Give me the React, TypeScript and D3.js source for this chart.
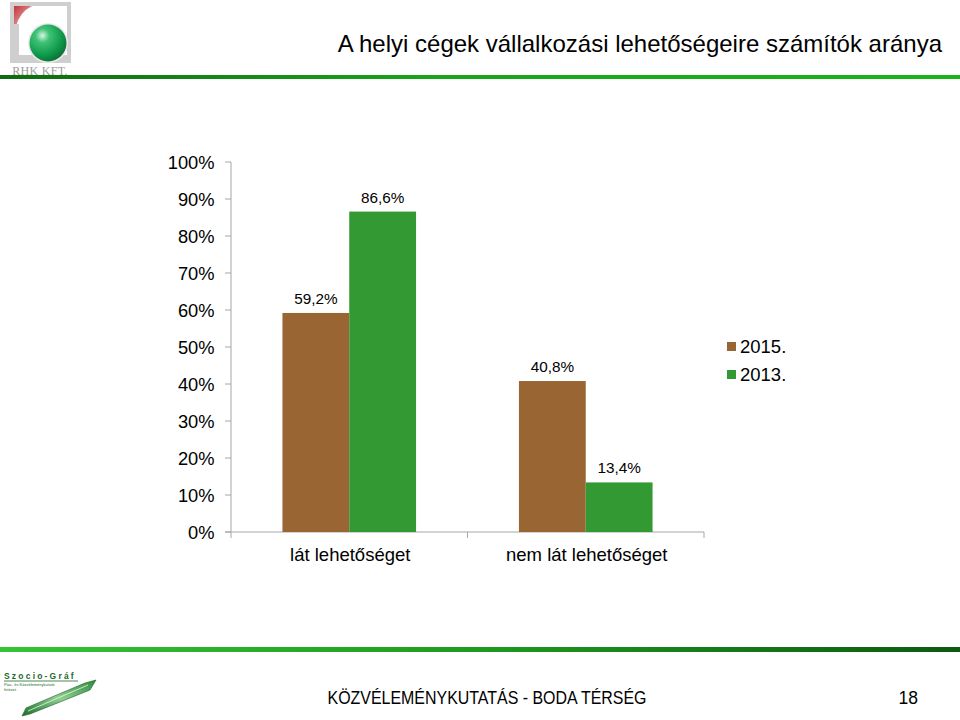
import React from "react";
import * as d3 from "d3";

const categories = ["lát lehetőséget", "nem lát lehetőséget"];
const years = ["2015.", "2013."];
const values2015 = [59.2, 40.8];
const values2013 = [86.6, 13.4];
const yTicks = [0, 10, 20, 30, 40, 50, 60, 70, 80, 90, 100];
const colors = ["#996633", "#339933"];
const title = "A helyi cégek vállalkozási lehetőségeire számítók aránya";
const footer = "KÖZVÉLEMÉNYKUTATÁS - BODA TÉRSÉG";
const pageNo = "18";

const fmt = (v: number) => v.toFixed(1).replace(".", ",") + "%";

export default function App() {
  const W = 960, H = 720;
  const x0 = 231, x1 = 704, yBottom = 532, yTop = 162;
  const y = d3.scaleLinear().domain([0, 100]).range([yBottom, yTop]);
  const xb = d3.scaleBand<string>().domain(categories).range([x0, x1]).padding(0);
  const xi = d3.scaleBand<string>().domain(years).range([0, xb.bandwidth()]).paddingInner(0).paddingOuter(0.77);
  const series = [values2015, values2013];
  const font = "Liberation Sans, Arial, sans-serif";

  return (
    <svg width={W} height={H} style={{ position: "absolute", left: 0, top: 0, background: "#fff" }} fontFamily={font}>
      <defs>
        <linearGradient id="topLine" x1="0" x2="1" y1="0" y2="0">
          <stop offset="0" stopColor="#0f6a12" />
          <stop offset="0.45" stopColor="#17a519" />
          <stop offset="1" stopColor="#19b41a" />
        </linearGradient>
        <linearGradient id="botLine" x1="0" x2="1" y1="0" y2="0">
          <stop offset="0" stopColor="#35c435" />
          <stop offset="0.5" stopColor="#1e9a1e" />
          <stop offset="1" stopColor="#0c5a10" />
        </linearGradient>
        <radialGradient id="sphere" cx="0.35" cy="0.3" r="0.75">
          <stop offset="0" stopColor="#d9f5e2" />
          <stop offset="0.25" stopColor="#3fc277" />
          <stop offset="0.7" stopColor="#0f9a4a" />
          <stop offset="1" stopColor="#0b6e35" />
        </radialGradient>
        <linearGradient id="redCorner" x1="0" y1="0" x2="1" y2="1">
          <stop offset="0" stopColor="#c0343a" />
          <stop offset="1" stopColor="#f3c9c9" />
        </linearGradient>
        <linearGradient id="pen" x1="0" y1="1" x2="1" y2="0">
          <stop offset="0" stopColor="#1c6e2a" />
          <stop offset="0.5" stopColor="#8ed08e" />
          <stop offset="1" stopColor="#2e8a3a" />
        </linearGradient>
      </defs>

      {/* top logo */}
      <rect x={10} y={2} width={61} height={61} fill="#cfcfcf" />
      <rect x={14} y={6} width={53} height={53} fill="#fff" />
      <path d="M14,6 L32,6 Q20,12 16,26 L14,26 Z" fill="url(#redCorner)" />
      <rect x={14} y={24} width={5} height={35} fill="#cfcfcf" />
      <rect x={14} y={55} width={53} height={4} fill="#cfcfcf" />
      <circle cx={48} cy={43} r={20} fill="#e8e8e8" />
      <circle cx={48} cy={43} r={18.5} fill="url(#sphere)" />
      <text x={40} y={75} textAnchor="middle" fontFamily="Liberation Serif, serif" fontSize={12} fill="#9a9a9a" letterSpacing={0.3}>RHK KFT.</text>

      <rect x={0} y={75} width={W} height={4} fill="url(#topLine)" />

      <text x={942} y={52} textAnchor="end" fontSize={24} fill="#000">{title}</text>

      {/* y axis */}
      <line x1={x0} x2={x0} y1={yTop} y2={yBottom} stroke="#a6a6a6" strokeWidth={1} />
      {yTicks.map((t) => (
        <g key={t}>
          <line x1={x0 - 6} x2={x0} y1={y(t)} y2={y(t)} stroke="#a6a6a6" />
          <text x={214.5} y={y(t) + 7} textAnchor="end" fontSize={18.3} fill="#000">{t}%</text>
        </g>
      ))}
      {/* x axis */}
      <line x1={x0 - 6} x2={x1} y1={yBottom} y2={yBottom} stroke="#a6a6a6" />
      {[...categories.map((c) => xb(c) as number), x1].map((xx, i) => (
        <line key={i} x1={xx} x2={xx} y1={yBottom} y2={yBottom + 6} stroke="#a6a6a6" />
      ))}

      {/* bars */}
      {categories.map((c, ci) => (
        <g key={c}>
          {years.map((yr, si) => {
            const v = series[si][ci];
            const bx = (xb(c) as number) + (xi(yr) as number);
            return (
              <g key={yr}>
                <rect x={bx} y={y(v)} width={xi.bandwidth()} height={yBottom - y(v)} fill={colors[si]} />
                <text x={bx + xi.bandwidth() / 2} y={y(v) - 9} textAnchor="middle" fontSize={15.3} fill="#000">{fmt(v)}</text>
              </g>
            );
          })}
          <text x={(xb(c) as number) + xb.bandwidth() / 2 + 1} y={561} textAnchor="middle" fontSize={18.5} fill="#000">{c}</text>
        </g>
      ))}

      {/* legend */}
      {years.map((yr, i) => (
        <g key={yr}>
          <rect x={727} y={342 + i * 28} width={9} height={9} fill={colors[i]} />
          <text x={740} y={353 + i * 28} fontSize={18.5} fill="#000">{yr}</text>
        </g>
      ))}

      {/* bottom line */}
      <rect x={0} y={647} width={W} height={5} fill="url(#botLine)" />

      {/* bottom logo */}
      <text x={4} y={679} fontSize={8.5} fontWeight="bold" fill="#1d6b2a" letterSpacing={2.2}>Szocio-Gráf</text>
      <line x1={4} x2={78} y1={681} y2={681} stroke="#1d6b2a" strokeWidth={0.8} />
      <text x={4} y={686} fontSize={4} fill="#1d6b2a">Piac- és Közvéleménykutató</text>
      <text x={4} y={691} fontSize={4} fill="#1d6b2a">Intézet</text>
      <path d="M22,716 L26,708 L85,683 L96,680 L90,690 L30,714 Z" fill="url(#pen)" stroke="#1c5e28" strokeWidth={0.6} />
      <path d="M28,711 L88,685" stroke="#e8f5e8" strokeWidth={0.8} />

      <text x={487} y={704} textAnchor="middle" fontFamily="Liberation Sans Narrow, Arial Narrow, sans-serif" fontSize={17.5} fill="#000" textLength={319} lengthAdjust="spacingAndGlyphs">{footer}</text>
      <text x={918} y={704} textAnchor="end" fontFamily="Liberation Sans Narrow, Arial Narrow, sans-serif" fontSize={17.5} fill="#000">{pageNo}</text>
    </svg>
  );
}
